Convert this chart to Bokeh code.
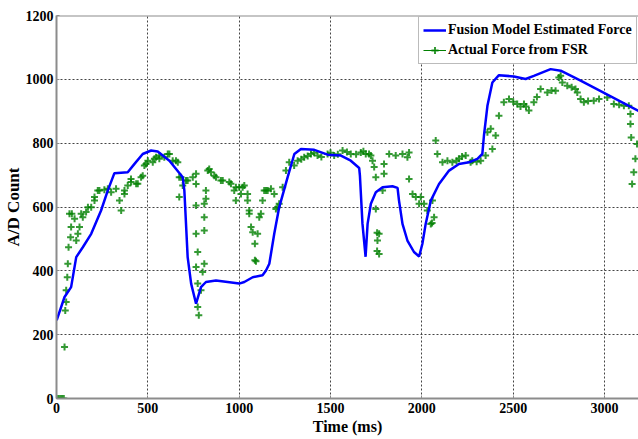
from bokeh.plotting import figure
from bokeh.models import Range1d, Span, Legend, LegendItem, FixedTicker
from bokeh.embed import file_html
from bokeh.resources import INLINE

# Fusion model estimated force (blue)
blue_x = [0, 4, 44, 80, 108, 144, 190, 244, 281, 317, 390, 427, 472, 518, 554, 618, 691,
          700, 718, 737, 764, 791, 818, 873, 1000, 1028, 1074, 1128, 1147, 1165, 1192, 1219,
          1265, 1302, 1338, 1411, 1484, 1557, 1611, 1657, 1661, 1675, 1692, 1703, 1721, 1748,
          1785, 1839, 1867, 1875, 1894, 1921, 1957, 1985, 2003, 2021, 2049, 2094, 2149, 2203,
          2258, 2304, 2331, 2340, 2359, 2386, 2422, 2504, 2568, 2613, 2705, 2760, 2869, 3186]
blue_y = [245, 250, 318, 349, 443, 474, 516, 589, 652, 706, 709, 735, 766, 777, 774, 745, 693,
          651, 443, 360, 297, 349, 365, 370, 360, 365, 380, 386, 401, 422, 516, 599,
          693, 766, 782, 779, 764, 761, 745, 722, 698, 547, 444, 547, 610, 646,
          662, 665, 660, 620, 547, 495, 459, 445, 485, 547, 620, 672, 714, 735,
          740, 751, 766, 824, 917, 990, 1013, 1009, 1001, 1011, 1032, 1027, 996, 901]

# Actual force from FSR (green)
green_x = [0, 10, 20, 30, 40, 44, 48, 53, 53, 59, 62, 66, 71, 77, 80, 84, 99, 108, 117, 126,
           135, 144, 162, 172, 190, 208, 208, 226, 235, 262, 281, 299, 326, 345, 354, 372, 372,
           390, 408, 408, 436, 445, 463, 472, 481, 490, 500, 527, 536, 545, 563, 563, 590, 609,
           618, 636, 654, 664, 672, 672, 682, 691, 709, 718, 746, 764, 764, 764, 764, 764, 773,
           773, 773, 779, 791, 800, 809, 809, 809, 809, 818, 818, 828, 836, 846, 864, 873, 900,
           910, 946, 955, 973, 982, 982, 1000, 1010, 1019, 1028, 1046, 1046, 1055, 1055, 1065,
           1074, 1086, 1086, 1092, 1101, 1110, 1119, 1128, 1137, 1147, 1156, 1174, 1192, 1201,
           1210, 1219, 1238, 1256, 1274, 1301, 1320, 1340, 1356, 1375, 1393, 1410, 1429, 1450,
           1484, 1500, 1520, 1540, 1566, 1590, 1611, 1640, 1666, 1680, 1693, 1711, 1721, 1730,
           1739, 1748, 1748, 1755, 1755, 1757, 1766, 1766, 1785, 1793, 1793, 1821, 1857, 1894,
           1921, 1930, 1930, 1949, 1967, 1985, 1994, 2012, 2030, 2049, 2056, 2058, 2067, 2076,
           2085, 2113, 2140, 2167, 2190, 2203, 2220, 2240, 2267, 2276, 2300, 2322, 2349, 2359,
           2377, 2386, 2404, 2422, 2449, 2477, 2500, 2522, 2540, 2559, 2570, 2586, 2613, 2630,
           2650, 2687, 2710, 2732, 2750, 2760, 2769, 2796, 2820, 2841, 2851, 2869, 2887, 2910,
           2941, 2970, 3015, 3051, 3080, 3106, 3133, 3142, 3142, 3146, 3151, 3160, 3169, 3178]
green_y = [0, 0, 0, 0, 0, 161, 276, 302, 339, 380, 422, 474, 579, 505, 537, 579, 563, 495, 516, 537,
           579, 568, 584, 599, 599, 620, 631, 652, 652, 654, 657, 646, 657, 620, 589, 641, 652,
           667, 678, 688, 673, 673, 693, 698, 730, 735, 745, 740, 751, 756, 761, 751, 756, 766,
           766, 745, 745, 740, 693, 631, 693, 667, 683, 683, 693, 704, 672, 605, 516, 412, 459,
           360, 287, 261, 339, 396, 610, 568, 526, 422, 652, 626, 714, 719, 709, 698, 693, 683,
           683, 678, 673, 652, 662, 620, 662, 641, 662, 667, 641, 620, 589, 579, 537,
           521, 485, 433, 430, 516, 568, 579, 620, 652, 652, 652, 657, 641, 594,
           599, 610, 662, 714, 740, 730, 745, 750, 756, 760, 766, 770, 761, 757,
           766, 770, 761, 765, 777, 772, 766, 765, 771, 775, 766, 766, 761, 745,
           725, 693, 594, 519, 462, 495, 516, 453, 652, 704, 735, 766, 761, 766,
           756, 771, 688, 641, 631, 610, 631, 610, 589, 547, 550, 620, 568, 808,
           766, 740, 745, 740, 745, 751, 758, 761, 740, 745, 742, 745, 761, 834,
           845, 782, 824, 886, 928, 938, 930, 923, 915, 923, 915, 902, 928, 945,
           970, 959, 965, 964, 1006, 1011, 990, 980, 975, 970, 959, 938, 928, 932,
           933, 938, 943, 923, 920, 917, 917, 891, 860, 818, 672, 709, 751, 797]

x_ticks = [0, 500, 1000, 1500, 2000, 2500, 3000]
y_ticks = [0, 200, 400, 600, 800, 1000, 1200]

BLUE = "#0000ff"
GREEN = "#008000"
SERIF = "Liberation Serif"

p = figure(width=638, height=439, output_backend="svg", toolbar_location=None,
           x_range=Range1d(0, 3186), y_range=Range1d(0, 1200),
           min_border_left=55, min_border_right=0, min_border_top=15, min_border_bottom=41)
p.outline_line_color = None
p.background_fill_color = "white"
p.border_fill_color = "white"

for ax in (p.xaxis[0], p.yaxis[0]):
    ax.axis_line_color = "#8c8c8c"
    ax.axis_line_width = 2
    ax.major_tick_line_color = "#8c8c8c"
    ax.major_tick_in = 3
    ax.major_tick_out = 0
    ax.minor_tick_line_color = None
    ax.major_label_text_font = SERIF
    ax.major_label_text_font_style = "bold"
    ax.major_label_text_font_size = "14px"
    ax.major_label_text_color = "black"
    ax.axis_label_text_font = SERIF
    ax.axis_label_text_font_style = "bold"
    ax.axis_label_text_color = "black"

p.xaxis.axis_label_text_font_size = "16px"
p.yaxis.axis_label_text_font_size = "17px"
p.xaxis.ticker = FixedTicker(ticks=x_ticks)
p.yaxis.ticker = FixedTicker(ticks=y_ticks)
p.xaxis.axis_label = "Time (ms)"
p.yaxis.axis_label = "A/D Count"
p.xaxis.major_label_standoff = 4
p.yaxis.major_label_standoff = 3
p.xaxis.axis_label_standoff = 2
p.yaxis.axis_label_standoff = 0

p.grid.grid_line_color = "#444444"
p.grid.grid_line_dash = "2 2"
p.grid.grid_line_width = 1
p.xgrid.ticker = FixedTicker(ticks=x_ticks)
p.ygrid.ticker = FixedTicker(ticks=y_ticks)

p.add_layout(Span(location=1200, dimension="width", line_color="#8c8c8c", line_width=2))

g_scatter = p.scatter(green_x, green_y, marker="cross", size=7, line_color=GREEN,
                      line_width=2, line_alpha=0.8)
b_line = p.line(blue_x, blue_y, line_color=BLUE, line_width=2.5)
g_line = p.line([-500, -400], [-500, -500], line_color=GREEN, line_width=1)

legend = Legend(items=[
    LegendItem(label="Fusion Model Estimated Force", renderers=[b_line]),
    LegendItem(label="Actual Force from FSR", renderers=[g_line, g_scatter]),
], location=(362, 334))
legend.label_text_font = SERIF
legend.label_text_font_style = "bold"
legend.label_text_font_size = "14px"
legend.label_text_color = "black"
legend.border_line_color = "#777777"
legend.border_line_width = 1
legend.background_fill_color = "white"
legend.background_fill_alpha = 1
legend.glyph_width = 23
legend.glyph_height = 18
legend.label_height = 18
legend.spacing = 2
legend.padding = 4
legend.margin = 0
legend.label_standoff = 2
p.add_layout(legend)

open("out.html", "w").write(file_html(p, INLINE))
